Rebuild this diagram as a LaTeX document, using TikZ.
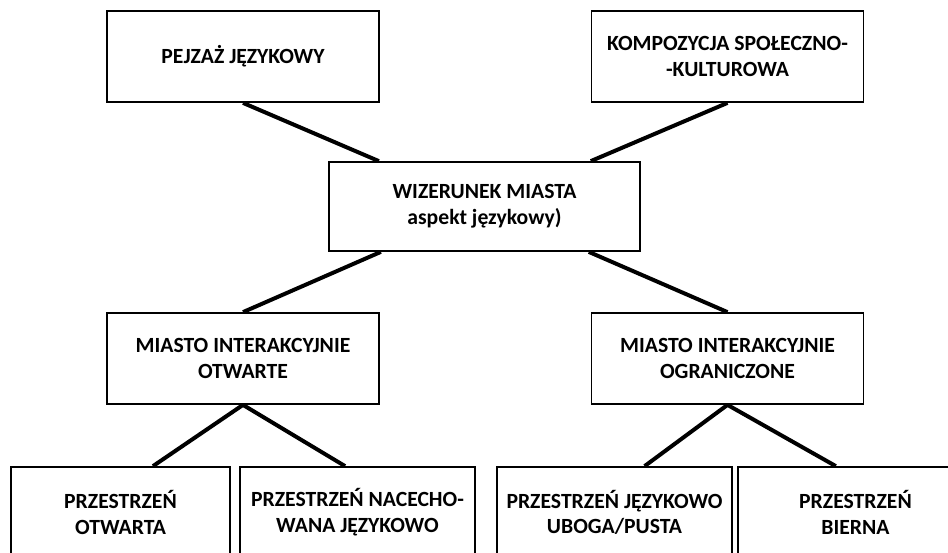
\documentclass[tikz,border=0pt]{standalone}
\usepackage{fontspec}
\setmainfont{Carlito}

\begin{document}
\begin{tikzpicture}[x=0.03cm,y=0.03cm]
  \tikzset{box/.style={draw,line width=1.5pt,align=center,inner sep=2pt,
      font=\bfseries\fontsize{18.5}{22}\selectfont,
      minimum width=8.16cm,minimum height=2.73cm}}
  \tikzset{link/.style={line width=3.4pt}}
  \useasboundingbox (0,0) rectangle (948,552);
  \clip (0,0) rectangle (948,552);
  \node[box] (pejzaz) at (243,495.5) {PEJZAŻ JĘZYKOWY};
  \node[box] (kompozycja) at (727.5,495.5) {KOMPOZYCJA SPOŁECZNO-\\-KULTUROWA};
  \node[box,minimum width=9.33cm,minimum height=2.67cm] (wizerunek) at (484.5,345.5) {WIZERUNEK MIASTA\\aspekt językowy)};
  \node[box] (miastoOtwarte) at (243,193.5) {MIASTO INTERAKCYJNIE\\OTWARTE};
  \node[box] (miastoOgraniczone) at (727.5,193.5) {MIASTO INTERAKCYJNIE\\OGRANICZONE};
  \node[box,minimum width=6.57cm] (otwarta) at (120.5,39.5) {PRZESTRZEŃ\\OTWARTA};
  \node[box,minimum width=7.05cm] (nacechowana) at (357.5,39.5) {PRZESTRZEŃ NACECHO-\\WANA JĘZYKOWO};
  \node[box,minimum width=7.05cm] (uboga) at (614.5,39.5) {PRZESTRZEŃ JĘZYKOWO\\UBOGA/PUSTA};
  \node[box,minimum width=7.05cm] (bierna) at (855.5,39.5) {PRZESTRZEŃ\\BIERNA};
  \draw[link] (pejzaz.south)--(wizerunek);
  \draw[link] (kompozycja.south)--(wizerunek);
  \draw[link] (wizerunek)--(miastoOtwarte.north);
  \draw[link] (wizerunek)--(miastoOgraniczone.north);
  \draw[link] (miastoOtwarte.south)--(otwarta.55);
  \draw[link] (miastoOtwarte.south)--(nacechowana.105);
  \draw[link] (miastoOgraniczone.south)--(uboga.57);
  \draw[link] (miastoOgraniczone.south)--(bierna.113);
\end{tikzpicture}
\end{document}
